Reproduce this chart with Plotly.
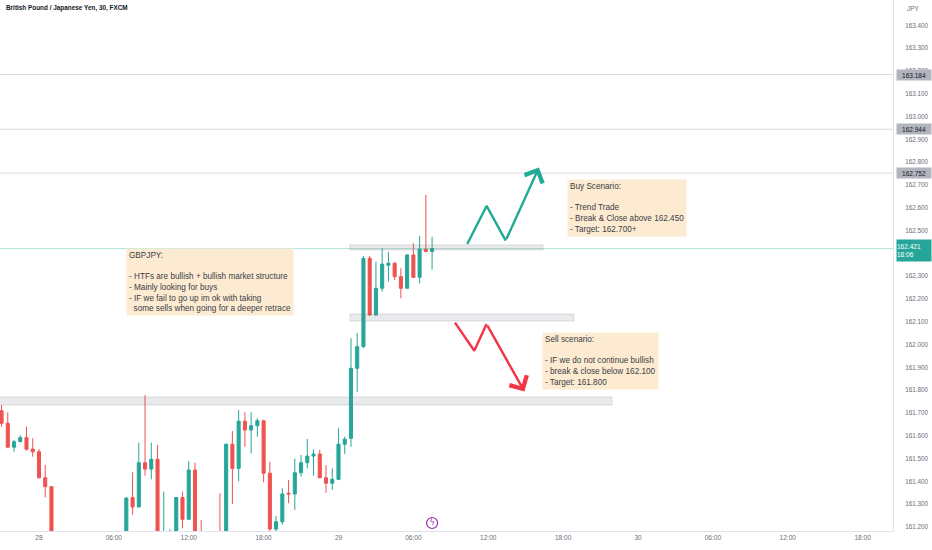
import pandas as pd
import plotly.graph_objects as go

# GBPJPY 30 min candles (FXCM), 27 Mar 21:00 -> 29 Mar 07:30
bar_times = pd.date_range("2023-03-27 21:00", periods=70, freq="30min")

opens = [161.710, 161.655, 161.550, 161.575, 161.592, 161.542, 161.530, 161.416, 161.377, 161.100,
         161.060, 161.090, 161.040, 161.080, 161.120, 161.070, 161.100, 161.050, 161.090, 161.120,
         161.100, 161.329, 161.288, 161.482, 161.454, 161.497, 161.050, 161.120, 161.140, 161.329,
         161.234, 161.450, 161.120, 161.060, 161.100, 161.120, 161.090, 161.563, 161.457, 161.664,
         161.625, 161.644, 161.666, 161.436, 161.191, 161.223, 161.348, 161.345, 161.438, 161.482,
         161.511, 161.520, 161.416, 161.392, 161.409, 161.563, 161.589, 161.896, 161.991, 162.378,
         162.130, 162.247, 162.348, 162.357, 162.298, 162.247, 162.393, 162.295, 162.418, 162.408]
highs = [161.735, 161.703, 161.582, 161.603, 161.640, 161.589, 161.542, 161.472, 161.380, 161.130,
         161.120, 161.110, 161.100, 161.140, 161.140, 161.130, 161.120, 161.110, 161.150, 161.140,
         161.330, 161.440, 161.570, 161.779, 161.570, 161.560, 161.355, 161.190, 161.329, 161.355,
         161.489, 161.482, 161.230, 161.130, 161.150, 161.348, 161.565, 161.621, 161.713, 161.703,
         161.703, 161.677, 161.670, 161.486, 161.248, 161.370, 161.406, 161.500, 161.516, 161.586,
         161.541, 161.538, 161.472, 161.457, 161.633, 161.596, 162.028, 162.050, 162.389, 162.389,
         162.364, 162.422, 162.407, 162.360, 162.335, 162.395, 162.444, 162.476, 162.656, 162.473]
lows = [161.640, 161.548, 161.530, 161.570, 161.535, 161.508, 161.414, 161.330, 161.050, 161.020,
        161.030, 161.000, 161.010, 161.060, 161.050, 161.050, 161.020, 161.030, 161.070, 161.080,
        161.080, 161.253, 161.285, 161.425, 161.409, 161.020, 161.000, 161.100, 161.120, 161.194,
        161.230, 161.100, 161.030, 161.040, 161.070, 161.070, 161.080, 161.300, 161.400, 161.552,
        161.523, 161.596, 161.396, 161.170, 161.170, 161.210, 161.304, 161.275, 161.421, 161.457,
        161.425, 161.414, 161.350, 161.362, 161.405, 161.520, 161.552, 161.793, 161.985, 162.125,
        162.125, 162.232, 162.276, 162.283, 162.203, 162.245, 162.293, 162.269, 162.405, 162.330]
closes = [161.655, 161.550, 161.574, 161.592, 161.541, 161.530, 161.416, 161.377, 161.100, 161.060,
          161.090, 161.040, 161.080, 161.120, 161.070, 161.100, 161.050, 161.090, 161.120, 161.100,
          161.327, 161.288, 161.482, 161.454, 161.497, 161.050, 161.120, 161.140, 161.329, 161.234,
          161.450, 161.120, 161.060, 161.100, 161.120, 161.090, 161.563, 161.457, 161.664, 161.625,
          161.644, 161.666, 161.436, 161.191, 161.223, 161.345, 161.345, 161.438, 161.482, 161.511,
          161.520, 161.416, 161.392, 161.409, 161.563, 161.585, 161.896, 161.991, 162.378, 162.130,
          162.247, 162.353, 162.357, 162.298, 162.247, 162.393, 162.295, 162.418, 162.408, 162.421]

last_price = 162.421
countdown = "18:06"
level_prices = [163.184, 162.944, 162.752]

# grey zones drawn on the chart
zone_starts = ["2023-03-29 00:55", "2023-03-29 00:55", "2023-03-27 12:00"]
zone_ends = ["2023-03-29 16:23", "2023-03-29 18:52", "2023-03-29 21:55"]
zone_lows = [162.415, 162.103, 161.735]
zone_highs = [162.437, 162.134, 161.770]

# scenario paths
buy_times = ["2023-03-29 10:19", "2023-03-29 11:52", "2023-03-29 13:24", "2023-03-29 16:04"]
buy_prices = [162.441, 162.608, 162.456, 162.777]
sell_times = ["2023-03-29 09:20", "2023-03-29 10:53", "2023-03-29 11:52", "2023-03-29 14:54"]
sell_prices = [162.096, 161.973, 162.090, 161.794]

event_time = bar_times[-1]
event_level = 161.2175

tick_times = pd.date_range("2023-03-28", periods=12, freq="6h")
tick_text = ["28", "06:00", "12:00", "18:00", "29", "06:00", "12:00", "18:00",
             "30", "06:00", "12:00", "18:00"]

note_main = ["GBPJPY:", "\u00a0", "- HTFs are bullish + bullish market structure",
             "- Mainly looking for buys", "- IF we fail to go up im ok with taking",
             "\u00a0\u00a0some sells when going for a deeper retrace"]
note_buy = ["Buy Scenario:", "\u00a0", "- Trend Trade", "- Break & Close above 162.450",
            "- Target: 162.700+"]
note_sell = ["Sell scenario:", "\u00a0", "- IF we do not continue bullish",
             "- break & close below 162.100", "- Target: 161.800"]

UP = "#26a69a"
DOWN = "#ef5350"
GREEN_ARROW = "#22ab94"
RED_ARROW = "#f23645"
NOTE_BG = "#fdebd1"
TEXT = "#3a3d48"
AXIS_TXT = "#6a6d78"
FONT = "Liberation Sans, Arial, sans-serif"

fig = go.Figure()

fig.add_trace(go.Candlestick(
    x=bar_times, open=opens, high=highs, low=lows, close=closes,
    increasing=dict(line=dict(color=UP, width=1), fillcolor=UP),
    decreasing=dict(line=dict(color=DOWN, width=1), fillcolor=DOWN),
    whiskerwidth=0, showlegend=False, hoverinfo="skip",
))

# horizontal levels and last price line
for p in level_prices:
    fig.add_shape(type="line", xref="paper", x0=0, x1=1, y0=p, y1=p,
                  line=dict(color="rgba(149,152,161,0.35)", width=1))
fig.add_shape(type="line", xref="paper", x0=0, x1=1, y0=last_price, y1=last_price,
              line=dict(color="rgba(34,171,148,0.35)", width=1))

# zones
for x0, x1, y0, y1 in zip(zone_starts, zone_ends, zone_lows, zone_highs):
    fig.add_shape(type="rect", x0=x0, x1=x1, y0=y0, y1=y1,
                  fillcolor="rgba(120,123,134,0.16)",
                  line=dict(color="rgba(120,123,134,0.22)", width=1))

# scenario arrows
for times, prices, col in [(buy_times, buy_prices, GREEN_ARROW), (sell_times, sell_prices, RED_ARROW)]:
    fig.add_trace(go.Scatter(x=times[:-1], y=prices[:-1], mode="lines",
                             line=dict(color=col, width=2.4), showlegend=False, hoverinfo="skip"))
    fig.add_annotation(x=times[-1], y=prices[-1], ax=times[-2], ay=prices[-2],
                       xref="x", yref="y", axref="x", ayref="y", text="",
                       showarrow=True, arrowhead=4, arrowsize=1.6, arrowwidth=2.4,
                       arrowcolor=col)

# event marker
fig.add_trace(go.Scatter(x=[event_time], y=[event_level], mode="markers+text", text=["ϟ"],
                         textposition="middle center",
                         textfont=dict(family="DejaVu Sans", size=8, color="#9c27b0"),
                         marker=dict(symbol="circle-open", size=11, color="#9c27b0",
                                     line=dict(width=1.2)),
                         showlegend=False, hoverinfo="skip"))

# notes
for lines, x, y in [(note_main, "2023-03-28 06:58", 162.422),
                    (note_buy, "2023-03-29 18:20", 162.726),
                    (note_sell, "2023-03-29 16:20", 162.057)]:
    fig.add_annotation(x=x, y=y, xref="x", yref="y", xanchor="left", yanchor="top",
                       text="<br>".join(lines), showarrow=False, align="left",
                       bgcolor=NOTE_BG, borderpad=2,
                       font=dict(family=FONT, size=8.2, color=TEXT))

# price labels on the axis
for p in level_prices:
    fig.add_annotation(xref="paper", x=1, xanchor="left", xshift=3, yref="y", y=p,
                       text=f"{p:.3f}", showarrow=False, bgcolor="#b2b5be",
                       width=34, height=10, borderpad=0,
                       font=dict(family=FONT, size=6.5, color="#131722"))
fig.add_annotation(xref="paper", x=1, xanchor="left", xshift=3, yref="y", y=last_price,
                   yanchor="middle", yshift=-2,
                   text=f"{last_price:.3f}<br>{countdown}", showarrow=False, bgcolor=UP,
                   width=34, height=21, borderpad=0, align="left",
                   font=dict(family=FONT, size=6.5, color="white"))

fig.add_annotation(xref="paper", x=1, xanchor="left", xshift=12, yref="paper", y=1, yshift=-8,
                   yanchor="middle", text="JPY", showarrow=False,
                   font=dict(family=FONT, size=6.5, color=AXIS_TXT))
fig.add_annotation(xref="paper", x=0, xanchor="left", xshift=4, yref="paper", y=1, yshift=-8,
                   yanchor="middle", text="<b>British Pound / Japanese Yen, 30, FXCM</b>",
                   showarrow=False,
                   font=dict(family=FONT, size=6.4, color="#131722"))

fig.update_layout(
    width=932, height=550,
    margin=dict(l=0, r=39, t=0, b=19),
    paper_bgcolor="white", plot_bgcolor="white",
    font=dict(family=FONT, color=AXIS_TXT),
    showlegend=False,
    xaxis=dict(
        type="date", range=["2023-03-27 20:52:36", "2023-03-30 20:26"],
        tickvals=tick_times, ticktext=tick_text, showgrid=False, zeroline=False,
        showline=True, linecolor="#e0e3eb", ticks="", tickfont=dict(size=6.5, color=AXIS_TXT),
        rangeslider=dict(visible=False),
    ),
    yaxis=dict(
        side="right", range=[161.1825, 163.511], dtick=0.1, tick0=161.0, tickformat=".3f",
        showgrid=False, zeroline=False, showline=True, linecolor="#e0e3eb", ticks="",
        ticklabelstandoff=10, tickfont=dict(size=6.3, color=AXIS_TXT),
        automargin=False,
    ),
)

# page body has a default margin; drop it so the figure sits at the window corner
fig.write_html("out.html", config={"displayModeBar": False},
               post_script="document.body.style.margin='0';document.body.style.padding='0';")
